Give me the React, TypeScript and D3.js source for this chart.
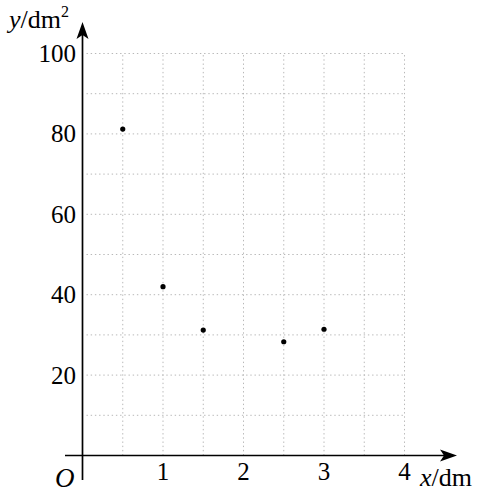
import React from "react";
import * as d3 from "d3";

const xValues = [0.5, 1, 1.5, 2.5, 3];
const yValues = [81.2, 42, 31.2, 28.3, 31.4];
const xTicks = [1, 2, 3, 4];
const yTicks = [20, 40, 60, 80, 100];
const xGrid = [0.5, 1, 1.5, 2, 2.5, 3, 3.5, 4];
const yGrid = [10, 20, 30, 40, 50, 60, 70, 80, 90, 100];

const W = 478;
const H = 496;
const FONT = "'Liberation Serif', 'Times New Roman', serif";

export default function App() {
  const x = d3.scaleLinear().domain([0, 4]).range([82.5, 404.5]);
  const y = d3.scaleLinear().domain([0, 100]).range([455.5, 53.5]);
  const x0 = x(0);
  const y0 = y(0);
  const gridColor = "#b8b8b8";

  const arrowUp = `M${x0},22 L${x0 + 6},39 L${x0},35 L${x0 - 6},39 Z`;
  const arrowRight = `M457,${y0} L440,${y0 - 6} L444,${y0} L440,${y0 + 6} Z`;

  return (
    <svg width={W} height={H} style={{ position: "absolute", left: 0, top: 0, background: "#fff" }}>
      <rect width={W} height={H} fill="#fff" />
      {xGrid.map((v) => (
        <line key={"gx" + v} x1={x(v)} x2={x(v)} y1={y0} y2={y(100)} stroke={gridColor} strokeWidth={1} strokeDasharray="1.4,2.8" />
      ))}
      {yGrid.map((v) => (
        <line key={"gy" + v} x1={x0 + 4} x2={x(4)} y1={y(v)} y2={y(v)} stroke={gridColor} strokeWidth={1} strokeDasharray="1.4,2.8" />
      ))}
      <line x1={65} x2={446} y1={y0} y2={y0} stroke="#000" strokeWidth={1.7} />
      <line x1={x0} x2={x0} y1={480} y2={32} stroke="#000" strokeWidth={1.7} />
      <path d={arrowUp} fill="#000" />
      <path d={arrowRight} fill="#000" />
      {xTicks.map((v) => (
        <text key={"xt" + v} x={x(v)} y={480} fontFamily={FONT} fontSize={25} textAnchor="middle" fill="#000">
          {v}
        </text>
      ))}
      {yTicks.map((v) => (
        <text key={"yt" + v} x={76} y={y(v) + 8.5} fontFamily={FONT} fontSize={25} textAnchor="end" fill="#000">
          {v}
        </text>
      ))}
      <text x={55} y={487} fontFamily={FONT} fontSize={27} fontStyle="italic" fill="#000">O</text>
      <text x={9} y={28} fontFamily={FONT} fontSize={26} fill="#000">
        <tspan fontStyle="italic">y</tspan>
        <tspan>/dm</tspan>
        <tspan fontSize={16} dy={-11}>2</tspan>
      </text>
      <text x={420} y={486} fontFamily={FONT} fontSize={26} fill="#000">
        <tspan fontStyle="italic">x</tspan>
        <tspan>/dm</tspan>
      </text>
      {xValues.map((v, i) => (
        <circle key={"p" + i} cx={x(v)} cy={y(yValues[i])} r={2.6} fill="#000" />
      ))}
    </svg>
  );
}
